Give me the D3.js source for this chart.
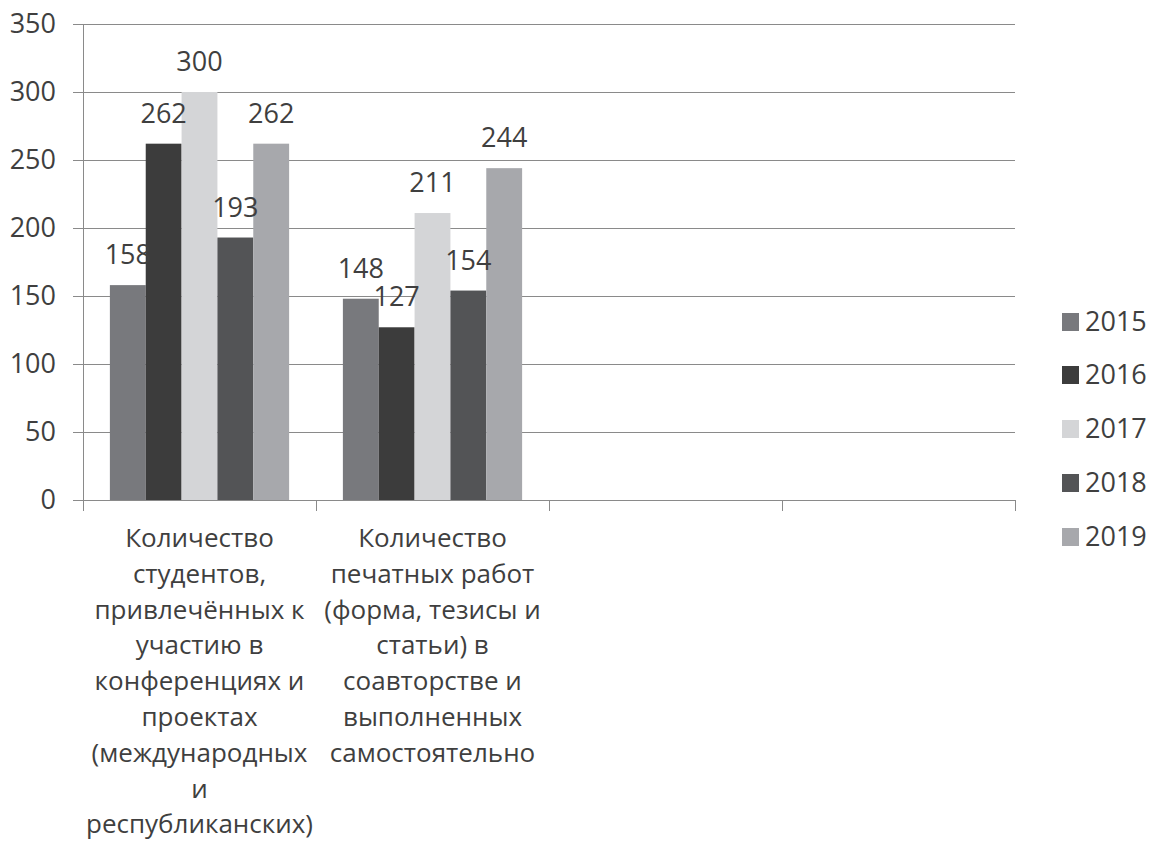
<!DOCTYPE html>
<html><head><meta charset="utf-8">
<script src="https://cdn.jsdelivr.net/npm/d3@7"></script>
<style>body{margin:0;background:#fff}svg{display:block}text{font-family:"Open Sans",sans-serif;fill:#3f3f3f}</style>
</head><body><svg id="c" width="1149" height="841"></svg>
<script>
const years = ["2015","2016","2017","2018","2019"];
const categoryKeys = ["c1","c2","c3","c4"];
const categoryLines = [
  ["Количество","студентов,","привлечённых к","участию в","конференциях и","проектах","(международных","и","республиканских)"],
  ["Количество","печатных работ","(форма, тезисы и","статьи) в","соавторстве и","выполненных","самостоятельно"],
  [],
  []
];
const v2015 = [158,148];
const v2016 = [262,127];
const v2017 = [300,211];
const v2018 = [193,154];
const v2019 = [262,244];
const series = [v2015,v2016,v2017,v2018,v2019];
const yTicks = [0,50,100,150,200,250,300,350];
const colors = ["#78797d","#3c3c3c","#d4d5d7","#535456","#a7a8ac"];

const svg = d3.select("#c");
const x0 = d3.scaleBand().domain(categoryKeys).range([83,1015]).padding(0);
const x1 = d3.scaleBand().domain(years).range([0,x0.bandwidth()]).paddingInner(0).paddingOuter(0.75);
const y = d3.scaleLinear().domain([0,350]).range([500,24]);
const color = d3.scaleOrdinal().domain(years).range(colors);

// gridlines + y ticks
const gy = svg.append("g");
gy.selectAll("line").data(yTicks).join("line")
  .attr("x1",73).attr("x2",1015).attr("y1",d=>y(d)+0.5).attr("y2",d=>y(d)+0.5)
  .attr("stroke","#8a8a8a").attr("stroke-width",1);
gy.selectAll("text").data(yTicks).join("text")
  .attr("x",56).attr("y",d=>y(d)).attr("dy","0.35em").attr("text-anchor","end")
  .attr("font-size",27).text(d=>d);
// y axis line
svg.append("line").attr("x1",83.5).attr("x2",83.5).attr("y1",y(350)).attr("y2",y(0)+1)
  .attr("stroke","#8a8a8a");

// bars
series.forEach((vals,si)=>{
  const yr = years[si];
  const g = svg.append("g");
  g.selectAll("rect").data(vals).join("rect")
    .attr("x",(d,i)=>x0(categoryKeys[i])+x1(yr))
    .attr("width",x1.bandwidth())
    .attr("y",d=>y(d)).attr("height",d=>y(0)-y(d))
    .attr("fill",color(yr));
});
// value labels
series.forEach((vals,si)=>{
  const yr = years[si];
  svg.append("g").selectAll("text").data(vals).join("text")
    .attr("x",(d,i)=>x0(categoryKeys[i])+x1(yr)+x1.bandwidth()/2)
    .attr("y",d=>y(d)-21).attr("text-anchor","middle").attr("font-size",27).text(d=>d);
});

// x axis
svg.append("line").attr("x1",83).attr("x2",1015).attr("y1",y(0)+0.5).attr("y2",y(0)+0.5).attr("stroke","#8a8a8a");
const bounds = categoryKeys.map(k=>x0(k)).concat([x0.range()[1]]);
svg.append("g").selectAll("line").data(bounds).join("line")
  .attr("x1",d=>Math.round(d)+0.5).attr("x2",d=>Math.round(d)+0.5).attr("y1",y(0)).attr("y2",y(0)+11)
  .attr("stroke","#8a8a8a");
categoryKeys.forEach((k,i)=>{
  const t = svg.append("text").attr("text-anchor","middle").attr("font-size",26);
  categoryLines[i].forEach((ln,j)=>{
    t.append("tspan").attr("x",x0(k)+x0.bandwidth()/2).attr("y",547+j*35.8).text(ln);
  });
});

// legend
const legY = [322,375,429,483,537];
const lg = svg.append("g");
years.forEach((yr,i)=>{
  lg.append("rect").attr("x",1062).attr("y",legY[i]-9).attr("width",17).attr("height",18).attr("fill",color(yr));
  lg.append("text").attr("x",1085).attr("y",legY[i]).attr("dy","0.35em").attr("font-size",27).text(yr);
});
</script></body></html>
